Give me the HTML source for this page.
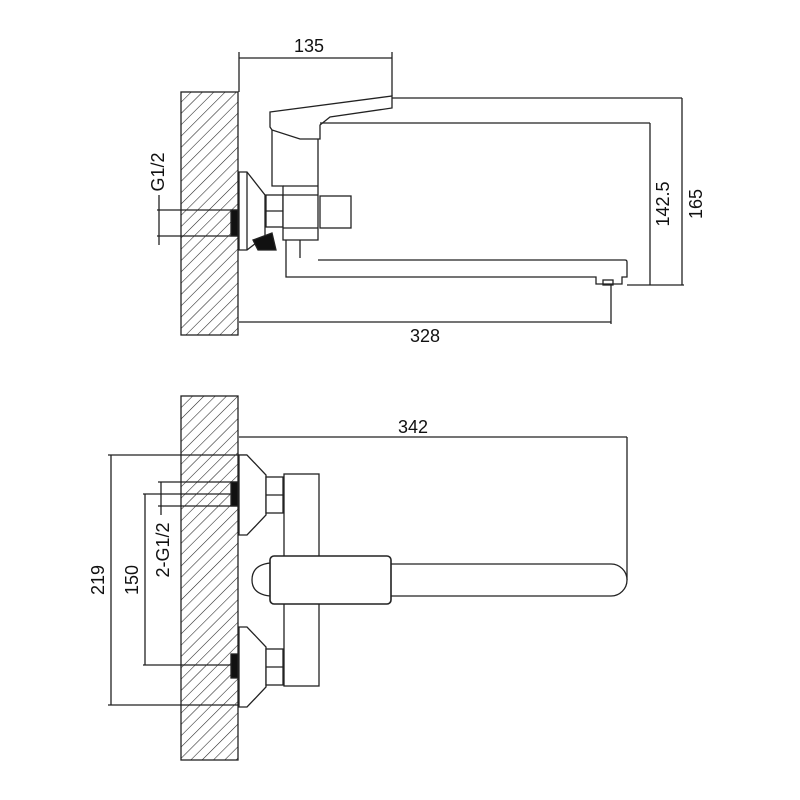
<!DOCTYPE html>
<html><head><style>body{margin:0;background:#fff}svg{display:block}</style></head><body>
<svg width="800" height="800" viewBox="0 0 800 800" xmlns="http://www.w3.org/2000/svg" font-family="Liberation Sans, sans-serif">
<defs>
<pattern id="h" width="8" height="8" patternUnits="userSpaceOnUse" patternTransform="rotate(45)">
<line x1="0" y1="0" x2="0" y2="8" stroke="#222" stroke-width="1.1"/>
</pattern>
</defs>
<g stroke="#222" stroke-width="1.3" fill="none">
<!-- TOP VIEW -->
<rect x="181" y="92" width="57" height="243" fill="url(#h)"/>
<line x1="157" y1="210" x2="238" y2="210"/><line x1="157" y1="236" x2="238" y2="236"/>
<line x1="159" y1="195" x2="159" y2="245"/>
<rect x="231" y="210" width="7" height="26" fill="#111"/>
<path d="M239 172 L247 172 L265 195 L265 236 L247 250 L239 250 Z" fill="#fff"/>
<line x1="247" y1="172" x2="247" y2="250"/>
<path d="M253 240 L272 233 L276 250 L258 250 Z" fill="#111"/>
<rect x="266" y="195" width="17" height="32" fill="#fff"/>
<line x1="266" y1="211" x2="283" y2="211"/>
<path d="M272 130 L272 186 L283 186 L283 240 L318 240 L318 130 Z" fill="#fff"/>
<line x1="283" y1="186" x2="318" y2="186"/>
<line x1="283" y1="195" x2="318" y2="195"/>
<line x1="283" y1="228" x2="318" y2="228"/>
<rect x="320" y="196" width="31" height="32"/>
<line x1="300" y1="240" x2="300" y2="258"/>
<path d="M270 112 L392 96 L392 108 L330 117 L320 125 L320 139 L300 139 L272 130 L270 127 Z" fill="#fff"/>
<line x1="320" y1="123" x2="650" y2="123"/>
<path d="M286 240 L286 277 L596 277 L596 284 L622 284 L622 277 L627 277 L627 262 Q627 260 625 260 L318 260"/>
<rect x="603" y="280" width="10" height="5"/>
<line x1="239" y1="52" x2="239" y2="92"/><line x1="392" y1="52" x2="392" y2="96"/>
<line x1="239" y1="58" x2="392" y2="58"/>
<line x1="392" y1="98" x2="682" y2="98"/>
<line x1="627" y1="285" x2="684" y2="285"/>
<line x1="650" y1="123" x2="650" y2="285"/>
<line x1="682" y1="98" x2="682" y2="285"/>
<line x1="239" y1="322" x2="611" y2="322"/>
<line x1="611" y1="285" x2="611" y2="324"/>
<!-- BOTTOM VIEW -->
<rect x="181" y="396" width="57" height="364" fill="url(#h)"/>
<line x1="158" y1="482" x2="238" y2="482"/><line x1="143" y1="494" x2="238" y2="494"/><line x1="158" y1="506" x2="238" y2="506"/>
<line x1="161" y1="482" x2="161" y2="515"/>
<rect x="231" y="482" width="7" height="24" fill="#111"/>
<line x1="143" y1="665" x2="238" y2="665"/>
<rect x="231" y="654" width="7" height="24" fill="#111"/>
<line x1="145" y1="494" x2="145" y2="665"/>
<line x1="108" y1="455" x2="247" y2="455"/><line x1="108" y1="705" x2="247" y2="705"/>
<line x1="111" y1="455" x2="111" y2="705"/>
<line x1="239" y1="437" x2="627" y2="437"/>
<line x1="627" y1="437" x2="627" y2="580"/>
<path d="M239 455 L247 455 L266 475 L266 515 L247 535 L239 535 Z" fill="#fff"/>
<path d="M239 627 L247 627 L266 647 L266 687 L247 707 L239 707 Z" fill="#fff"/>
<rect x="266" y="477" width="17" height="36" fill="#fff"/>
<line x1="266" y1="495" x2="283" y2="495"/>
<rect x="266" y="649" width="17" height="36" fill="#fff"/>
<line x1="266" y1="667" x2="283" y2="667"/>
<rect x="284" y="474" width="35" height="212" fill="#fff"/>
<path d="M390 564 L611 564 A16 16 0 0 1 611 596 L390 596" fill="#fff"/>
<rect x="270" y="556" width="121" height="48" rx="4" fill="#fff" stroke-width="1.6"/>
<path d="M270 563 Q252 565 252 580 Q252 594 270 596"/>
</g>
<g fill="#111" font-size="18">
<text x="309" y="52" text-anchor="middle">135</text>
<text x="425" y="342" text-anchor="middle">328</text>
<text x="413" y="433" text-anchor="middle">342</text>
<text transform="translate(164 172) rotate(-90)" text-anchor="middle">G1/2</text>
<text transform="translate(669 204) rotate(-90)" text-anchor="middle">142.5</text>
<text transform="translate(702 204) rotate(-90)" text-anchor="middle">165</text>
<text transform="translate(104 580) rotate(-90)" text-anchor="middle">219</text>
<text transform="translate(138 580) rotate(-90)" text-anchor="middle">150</text>
<text transform="translate(169 550) rotate(-90)" text-anchor="middle">2-G1/2</text>
</g>
</svg>
</body></html>
